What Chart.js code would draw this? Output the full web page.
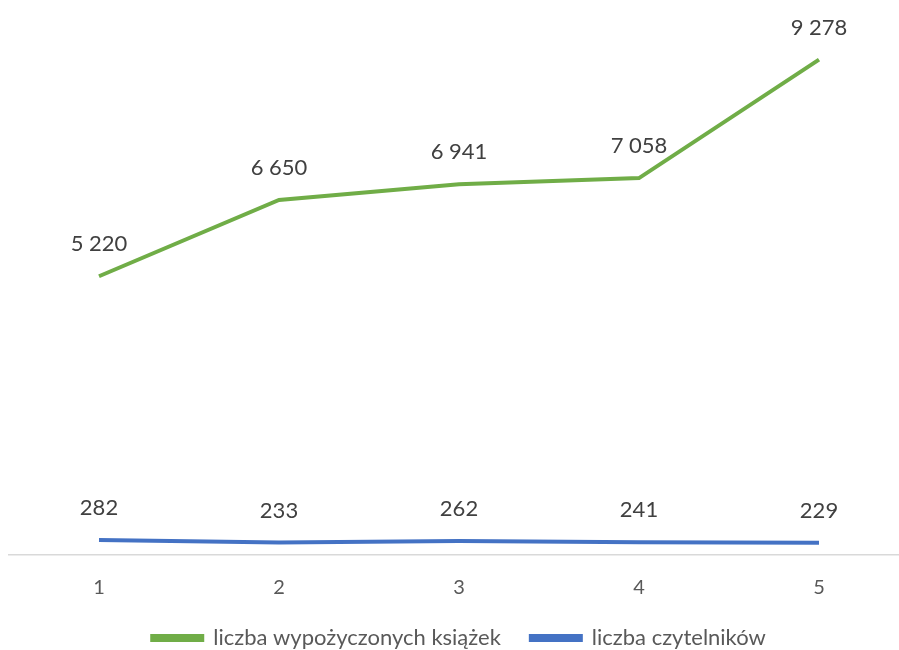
<!DOCTYPE html>
<html>
<head>
<meta charset="utf-8">
<script src="https://cdn.jsdelivr.net/npm/chart.js@4"></script>
<style>
  body { margin: 0; overflow: hidden; background: #fff; }
</style>
</head>
<body>
<canvas id="chart" width="920" height="650"></canvas>
<script>
// data
const categories = ['1', '2', '3', '4', '5'];
const booksLabel = 'liczba wypożyczonych książek';
const booksValues = [5220, 6650, 6941, 7058, 9278];
const readersLabel = 'liczba czytelników';
const readersValues = [282, 233, 262, 241, 229];

const fontFamily = 'Lato, "Open Sans", sans-serif';

// format with a space as thousands separator, like "9 278"
function fmt(n) {
    return n.toString().replace(/\B(?=(\d{3})+(?!\d))/g, ' ');
}

// draw the value above each point
const valueLabels = {
    id: 'valueLabels',
    afterDatasetsDraw(chart) {
        const ctx = chart.ctx;
        ctx.save();
        ctx.font = '22px ' + fontFamily;
        ctx.fillStyle = '#404040';
        ctx.textAlign = 'center';
        ctx.textBaseline = 'middle';
        chart.data.datasets.forEach(function (ds, i) {
            const meta = chart.getDatasetMeta(i);
            meta.data.forEach(function (pt, j) {
                ctx.fillText(fmt(ds.data[j]), pt.x, pt.y - 32);
            });
        });
        ctx.restore();
    }
};

const ctx = document.getElementById('chart').getContext('2d');
new Chart(ctx, {
    type: 'line',
    data: {
        labels: categories,
        datasets: [{
            label: booksLabel,
            data: booksValues,
            borderColor: '#70AD47',
            backgroundColor: '#70AD47',
            borderWidth: 4,
            pointRadius: 0,
            tension: 0
        }, {
            label: readersLabel,
            data: readersValues,
            borderColor: '#4472C4',
            backgroundColor: '#4472C4',
            borderWidth: 4,
            pointRadius: 0,
            tension: 0
        }]
    },
    options: {
        responsive: false,
        animation: false,
        layout: {
            padding: { top: 21, left: 9, right: 11, bottom: -9 }
        },
        plugins: {
            legend: {
                position: 'bottom',
                labels: {
                    boxWidth: 50,
                    boxHeight: 4,
                    padding: 30,
                    color: '#595959',
                    font: { family: fontFamily, size: 22 }
                }
            },
            tooltip: { enabled: false }
        },
        scales: {
            x: {
                offset: true,
                grid: { display: false, drawTicks: false },
                border: { display: true, color: '#d9d9d9', width: 1.5 },
                ticks: {
                    padding: 21,
                    color: '#595959',
                    font: { family: fontFamily, size: 20 }
                },
                afterFit: function (scale) { scale.height = 42; }
            },
            y: {
                display: false,
                min: 0,
                max: 10000
            }
        }
    },
    plugins: [valueLabels]
});
</script>
</body>
</html>
